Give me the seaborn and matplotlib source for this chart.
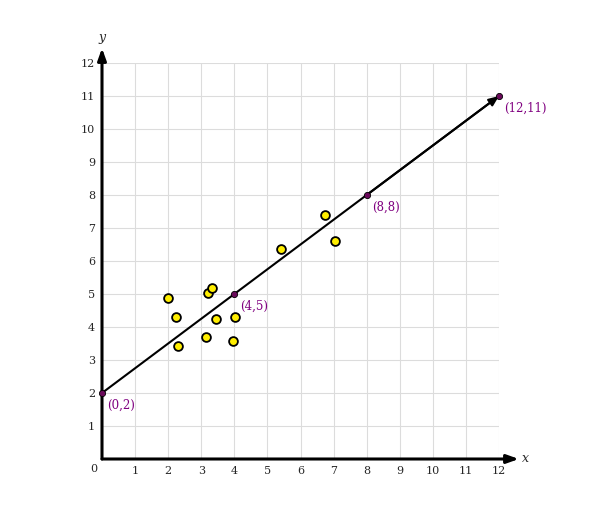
import matplotlib
matplotlib.use('Agg')
import matplotlib.pyplot as plt
import seaborn as sns
import pandas as pd

# scattered sample points
pts_x = [1.99, 2.23, 2.31, 3.19, 3.34, 3.46, 3.13, 3.96, 4.01, 5.42, 6.75, 7.05]
pts_y = [4.87, 4.31, 3.42, 5.02, 5.19, 4.23, 3.69, 3.57, 4.31, 6.35, 7.40, 6.61]

# points on the fitted line
line_x = [0, 4, 8, 12]
line_y = [2, 5, 8, 11]
line_labels = ['(0,2)', '(4,5)', '(8,8)', '(12,11)']

ticks = list(range(1, 13))

sns.set_style('white')
plt.rcParams['font.family'] = ['DejaVu Serif']

fig = plt.figure(figsize=(6.14, 5.13), dpi=100)
ax = fig.add_axes([102 / 614, 54 / 513, 397 / 614, 396 / 513])
ax.set_xlim(0, 12)
ax.set_ylim(0, 12)

ax.set_xticks(ticks)
ax.set_yticks(ticks)
ax.set_xticklabels([str(t) for t in ticks], fontsize=8)
ax.set_yticklabels([str(t) for t in ticks], fontsize=8)
ax.tick_params(length=0, pad=5)
ax.grid(True, color='#dcdcdc', lw=0.8)
for s in ax.spines.values():
    s.set_visible(False)

# axes with arrows
ax.annotate('', xy=(12.6, 0), xytext=(0, 0), xycoords='data',
            arrowprops=dict(arrowstyle='-|>,head_length=0.7,head_width=0.25', lw=2.2, color='black',
                            shrinkA=0, shrinkB=0), annotation_clip=False)
ax.annotate('', xy=(0, 12.45), xytext=(0, 0), xycoords='data',
            arrowprops=dict(arrowstyle='-|>,head_length=0.7,head_width=0.25', lw=2.2, color='black',
                            shrinkA=0, shrinkB=0), annotation_clip=False)
ax.text(12.68, 0, 'x', fontsize=9, style='italic', ha='left', va='center')
ax.text(0, 12.78, 'y', fontsize=9, style='italic', ha='center', va='center')
ax.annotate('0', xy=(0, 0), xytext=(-6, -7), textcoords='offset points',
            ha='center', va='center', fontsize=8, annotation_clip=False)

# fitted line with arrow head
df_line = pd.DataFrame({'x': line_x, 'y': line_y})
sns.lineplot(data=df_line, x='x', y='y', color='black', lw=1.5, ax=ax)
ax.annotate('', xy=(line_x[-1], line_y[-1]), xytext=(line_x[-2], line_y[-2]),
            arrowprops=dict(arrowstyle='-|>,head_length=0.6,head_width=0.25', lw=1.5, color='black',
                            shrinkA=0, shrinkB=0), annotation_clip=False)

df_pts = pd.DataFrame({'x': pts_x, 'y': pts_y})
sns.scatterplot(data=df_pts, x='x', y='y', s=40, color='#ffee00', edgecolor='black',
                linewidth=1.3, ax=ax, zorder=5, clip_on=False)

sns.scatterplot(data=df_line, x='x', y='y', s=20, color='#6a0a5a', edgecolor='black',
                linewidth=0.6, ax=ax, zorder=6, clip_on=False)
for lx, ly, lab in zip(line_x, line_y, line_labels):
    ax.annotate(lab, xy=(lx, ly), xytext=(4, -9), textcoords='offset points',
                ha='left', va='center', fontsize=8.5, color='#800080', annotation_clip=False)

ax.set_xlabel('')
ax.set_ylabel('')
fig.savefig('out.png', dpi=100)
